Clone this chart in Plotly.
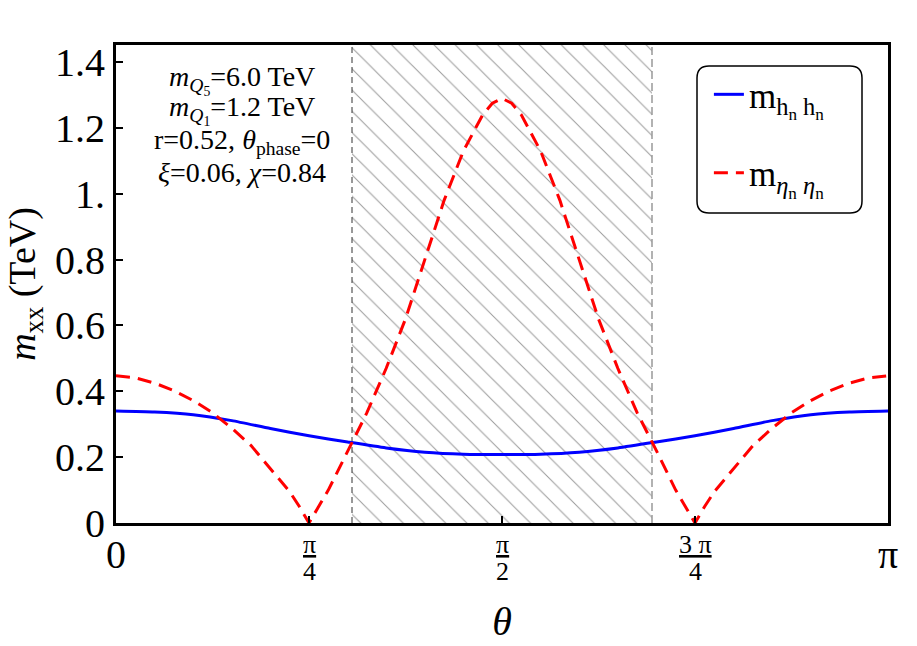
import numpy as np
import plotly.graph_objects as go

# ---- data (theta in units of pi) ----
theta_blue = [0.0, 0.05, 0.10, 0.15, 0.20, 0.25, 0.30, 0.35, 0.40, 0.45, 0.50,
              0.55, 0.60, 0.65, 0.70, 0.75, 0.80, 0.85, 0.90, 0.95, 1.0]
m_hh = [0.340, 0.337, 0.329, 0.311, 0.287, 0.265, 0.246, 0.228, 0.215, 0.209, 0.208,
        0.209, 0.215, 0.228, 0.246, 0.265, 0.287, 0.311, 0.329, 0.337, 0.340]

theta_red = [0.0, 0.025, 0.05, 0.075, 0.10, 0.125, 0.15, 0.175, 0.20, 0.225, 0.2375, 0.25,
             0.275, 0.30, 0.325, 0.35, 0.375, 0.40, 0.425, 0.45, 0.475, 0.4875, 0.5,
             0.5125, 0.525, 0.55, 0.575, 0.60, 0.625, 0.65, 0.675, 0.70, 0.725, 0.75,
             0.7625, 0.775, 0.80, 0.825, 0.85, 0.875, 0.90, 0.925, 0.95, 0.975, 1.0]
m_ee = [0.447, 0.441, 0.425, 0.402, 0.372, 0.335, 0.288, 0.235, 0.165, 0.095, 0.050, 0.0,
        0.10, 0.22, 0.335, 0.47, 0.62, 0.80, 0.98, 1.13, 1.24, 1.275, 1.29,
        1.275, 1.24, 1.13, 0.98, 0.80, 0.62, 0.47, 0.335, 0.22, 0.10, 0.0,
        0.050, 0.095, 0.165, 0.235, 0.288, 0.335, 0.372, 0.402, 0.425, 0.441, 0.447]

hatch_bounds = [0.3057, 0.6943]   # theta/pi of shaded band
y_top = 1.452

y_tickvals = [0, 0.2, 0.4, 0.6, 0.8, 1.0, 1.2, 1.4]
y_ticktext = ["0", "0.2", "0.4", "0.6", "0.8", "1.", "1.2", "1.4"]
x_tickfrac = [0, 0.25, 0.5, 0.75, 1.0]
x_numer = ["0", "<u>π</u>", "<u>π</u>", "<u>3 π</u>", "π"]
x_denom = ["", "4", "2", "4", ""]

params = ["<i>m</i><sub><i>Q</i><sub>5</sub></sub>=6.0 TeV",
          "<i>m</i><sub><i>Q</i><sub>1</sub></sub>=1.2 TeV",
          "r=0.52, <i>θ</i><sub>phase</sub>=0",
          "<i>ξ</i>=0.06, <i>χ</i>=0.84"]

FONT = "Liberation Serif"
PI = np.pi

fig = go.Figure()

a, b = hatch_bounds[0] * PI, hatch_bounds[1] * PI
fig.add_trace(go.Scatter(
    x=[a, a, b, b, a], y=[0, y_top, y_top, 0, 0],
    mode="lines", line=dict(width=0), fill="toself",
    fillcolor="rgba(0,0,0,0)",
    fillpattern=dict(shape="\\", size=15, solidity=0.07, fgcolor="#3a3a3a", bgcolor="white"),
    showlegend=False, hoverinfo="skip"))
fig.add_trace(go.Scatter(x=[a, a], y=[0, y_top], mode="lines",
                         line=dict(color="#333333", width=1, dash="6px,4px"),
                         showlegend=False, hoverinfo="skip"))
fig.add_trace(go.Scatter(x=[b, b], y=[0, y_top], mode="lines",
                         line=dict(color="#999999", width=1.5, dash="8px,4px"),
                         showlegend=False, hoverinfo="skip"))

fig.add_trace(go.Scatter(
    x=[t * PI for t in theta_blue], y=m_hh, mode="lines",
    line=dict(color="#0000FF", width=3, shape="spline", smoothing=0.6),
    name="m<sub>h<sub>n</sub> h<sub>n</sub></sub>", legendgroup="a"))
fig.add_trace(go.Scatter(
    x=[t * PI for t in theta_red], y=m_ee, mode="lines",
    line=dict(color="#FF0000", width=3, dash="14px,8px"),
    name="m<sub><i>η</i><sub>n</sub> <i>η</i><sub>n</sub></sub>", legendgroup="b"))

L, R, T, B = 116, 29, 45, 123
W, H = 917, 646
pw, ph = W - L - R, H - T - B

fig.update_layout(
    width=W, height=H,
    margin=dict(l=L, r=R, t=T, b=B, autoexpand=False),
    paper_bgcolor="white", plot_bgcolor="white",
    font=dict(family=FONT, color="black"),
    showlegend=True,
    legend=dict(x=0.768, y=0.958, xanchor="left", yanchor="top",
                bgcolor="rgba(0,0,0,0)", borderwidth=0,
                font=dict(size=35, family=FONT),
                tracegroupgap=30, traceorder="grouped"),
    xaxis=dict(range=[0, PI], tickvals=[t * PI for t in x_tickfrac],
               ticktext=["" for _ in x_tickfrac],
               ticks="inside", ticklen=7, tickwidth=2, tickcolor="black",
               showline=True, linewidth=3, linecolor="black", mirror=True,
               showgrid=False, zeroline=False, automargin=False,
               title=dict(text="<i>θ</i>", font=dict(size=40, family=FONT), standoff=80)),
    yaxis=dict(range=[0, y_top], tickvals=y_tickvals, ticktext=y_ticktext,
               ticks="inside", ticklen=7, tickwidth=2, tickcolor="black",
               showline=True, linewidth=3, linecolor="black", mirror=True,
               showgrid=False, zeroline=False, automargin=False,
               tickfont=dict(size=40, family=FONT),
               title=dict(text="<i>m</i><sub>xx</sub> (TeV)", font=dict(size=38, family=FONT),
                          standoff=8)),
)

for num, den, p in zip(x_numer, x_denom, x_tickfrac):
    if den == "":
        fig.add_annotation(x=p * PI, y=0, xref="x", yref="paper", yshift=-31,
                           text=num, showarrow=False, yanchor="middle",
                           font=dict(size=40, family=FONT))
    else:
        fig.add_annotation(x=p * PI, y=0, xref="x", yref="paper", yshift=-21,
                           text=num, showarrow=False, yanchor="middle",
                           font=dict(size=26, family=FONT))
        fig.add_annotation(x=p * PI, y=0, xref="x", yref="paper", yshift=-48,
                           text=den, showarrow=False, yanchor="middle",
                           font=dict(size=26, family=FONT))

line_y = [80, 110, 141, 172]
for txt, yy in zip(params, line_y):
    fig.add_annotation(x=(242 - L) / pw, y=(H - B - yy) / ph, xref="paper", yref="paper",
                       text=txt, showarrow=False, xanchor="center", yanchor="middle",
                       font=dict(size=28, family=FONT))

# rounded legend frame
x0, x1 = (697 - L) / pw, (862 - L) / pw
y0, y1 = (H - B - 213) / ph, (H - B - 66) / ph
rx, ry = 12 / pw, 12 / ph
path = (f"M {x0+rx},{y0} L {x1-rx},{y0} Q {x1},{y0} {x1},{y0+ry} "
        f"L {x1},{y1-ry} Q {x1},{y1} {x1-rx},{y1} L {x0+rx},{y1} Q {x0},{y1} {x0},{y1-ry} "
        f"L {x0},{y0+ry} Q {x0},{y0} {x0+rx},{y0} Z")
fig.add_shape(type="path", path=path, xref="paper", yref="paper",
              line=dict(color="black", width=1.5), fillcolor="rgba(0,0,0,0)")

fig.write_html("out.html")
